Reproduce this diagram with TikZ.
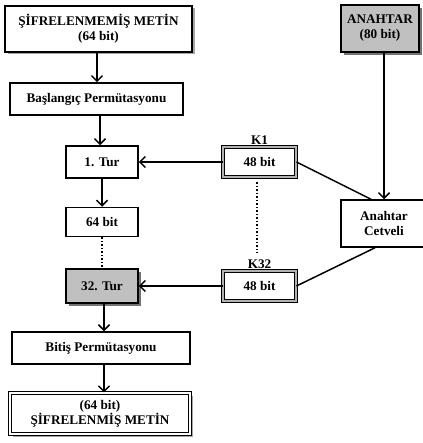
\documentclass[tikz,border=0pt]{standalone}
\usepackage{fontspec}
\setmainfont{Liberation Serif}
\usetikzlibrary{arrows.meta,shadows}
\definecolor{boxgray}{RGB}{192,192,192}
\begin{document}
\begin{tikzpicture}[x=1pt,y=-1pt,
  font=\bfseries\fontsize{13.2}{15}\selectfont,
  box/.style={draw, line width=1.5pt, fill=white, inner sep=0pt, align=center},
  shad/.style={drop shadow={shadow xshift=2.5pt, shadow yshift=-2.5pt, fill=gray!70, opacity=1}},
  darkshad/.style={drop shadow={shadow xshift=3pt, shadow yshift=-3pt, fill=gray!90!black, opacity=1}},
  keybox/.style={draw, line width=0.9pt, double=gray!60, double distance=1.6pt, fill=white, inner sep=0pt, align=center, minimum width=73pt, minimum height=30pt},
  dbl/.style={draw, line width=1.1pt, double=white, double distance=2pt, fill=white, inner sep=0pt, align=center},
  arr/.style={-{Straight Barb[length=5.5pt,width=11pt,line width=1.5pt]}, line width=1.5pt},
  ln/.style={line width=1.5pt},
  dots/.style={line width=1.5pt, dotted}]
\useasboundingbox (0,0) rectangle (422,443);
% left column
\node[box, shad, minimum width=187pt, minimum height=46pt] (plain) at (98.5,29) {ŞİFRELENMEMİŞ METİN\\(64 bit)};
\node[box, minimum width=173pt, minimum height=32pt] (ip) at (96.5,99) {Başlangıç Permütasyonu};
\node[box, minimum width=72pt, minimum height=32pt] (t1) at (102,162) {1. Tur};
\node[box, minimum width=72pt, minimum height=29pt] (b64) at (102,222) {64 bit};
\node[box, darkshad, fill=boxgray, minimum width=72pt, minimum height=34pt] (t32) at (102,286) {32. Tur};
\node[box, minimum width=178pt, minimum height=32pt] (fp) at (101,348) {Bitiş Permütasyonu};
\node[dbl, shad, minimum width=180pt, minimum height=41pt] (cipher) at (100,413.5) {(64 bit)\\ŞİFRELENMİŞ METİN};
% right column
\node[box, darkshad, fill=boxgray, minimum width=78pt, minimum height=47pt] (key) at (380,28.5) {ANAHTAR\\(80 bit)};
\node[box, minimum width=86pt, minimum height=47pt] (ks) at (384,223.5) {Anahtar\\Cetveli};
\node[keybox] (k1) at (259.5,162) {48 bit};
\node[keybox] (k32) at (259.5,286) {48 bit};
\node[anchor=south, inner sep=1.5pt] (lk1) at (k1.north) {K1};
\node[anchor=south, inner sep=1.5pt] (lk32) at (k32.north) {K32};
% connectors
\draw[arr] ([xshift=-1.5pt]plain.south) -- ([xshift=-1.5pt]plain.south |- ip.north);
\draw[arr] ([xshift=3.5pt]ip.south) -- ([xshift=3.5pt]ip.south |- t1.north);
\draw[arr] (t1.south) -- (b64.north);
\draw[dots] (b64.south) -- (t32.north);
\draw[arr] ([xshift=2pt]t32.south) -- ([xshift=2pt]t32.south |- fp.north);
\draw[arr] ([xshift=3pt]fp.south) -- ([xshift=3pt]fp.south |- cipher.north);
\draw[arr] (key.south -| ks.north) -- (ks.north);
\draw[arr] (k1.west) -- (t1.east);
\draw[arr] (k32.west) -- (t32.east);
\draw[ln] (k1.east) -- ([xshift=-13pt]ks.north);
\draw[ln] (k32.east) -- ([xshift=-9pt]ks.south);
\draw[dots] ([xshift=-2.5pt,yshift=-5pt]k1.south) -- ([xshift=-2.5pt,yshift=5pt]lk32.north);
\end{tikzpicture}
\end{document}
